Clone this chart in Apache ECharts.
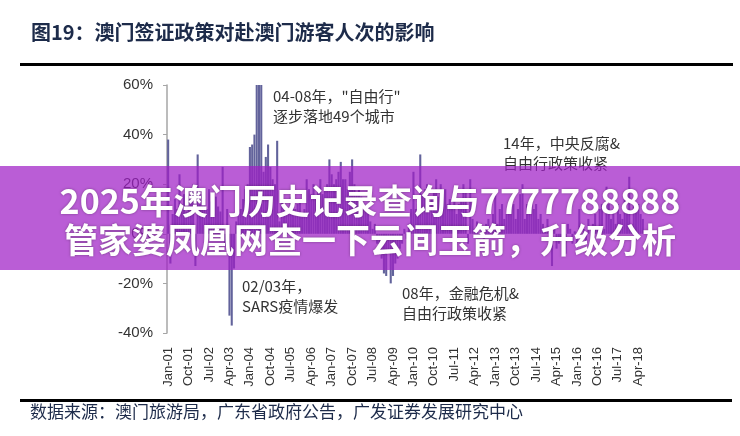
<!DOCTYPE html>
<html><head><meta charset="utf-8">
<script src="https://cdn.jsdelivr.net/npm/echarts@6/dist/echarts.min.js"></script>
<style>html,body{margin:0;padding:0;background:#fff}#c{width:740px;height:436px}</style>
</head><body><div id="c"></div>
<script>
const titleText = '图19：澳门签证政策对赴澳门游客人次的影响';
const sourceText = '数据来源：澳门旅游局，广东省政府公告，广发证券发展研究中心';
const bannerLines = ['2025年澳门历史记录查询与7777788888', '管家婆凤凰网查一下云间玉箭，升级分析'];
const monthNames = ['Jan','Feb','Mar','Apr','May','Jun','Jul','Aug','Sep','Oct','Nov','Dec'];
const yearLabels = ['01','02','03','04','05','06','07','08','09','10','11','12','13','14','15','16','17','18'];
const yTicks = [-40, -20, 0, 20, 40, 60];

// Monthly YoY growth of visitor arrivals (%)
const yoy2001 = [38, -12, 8, 14, 10, 24, 12, 16, 9, 14, 18, 20];
const yoy2002 = [-13, 32, 12, 16, 14, 10, 18, 13, 8, 15, 11, 9];
const yoy2003 = [27, -5, 10, -33, -37, -14, 5, 8, 10, 14, 18, 20];
const yoy2004 = [35, 36, 40, 60, 60, 60, 25, 31, 36, 27, 22, 20];
const yoy2005 = [37.5, 5, 14, 12, 10, 8, 15, 13, 10, 12, 14, 8];
const yoy2006 = [10, 22, 18, 16, 20, 14, 18, 22, 16, 18, 20, 30];
const yoy2007 = [24, 20, 22, 25, 29, 22, 22, 18, 25, 30, 20, 16];
const yoy2008 = [18, 15, 12, 10, 12, 5, 2, 4, -4, -8, -10, -16];
const yoy2009 = [-17, -8, -20, -17, -12, -10, -6, -4, 2, -2, 4, 10];
const yoy2010 = [25, 10, 14, 32, 16, 18, 20, 12, 14, 18, 22, 15];
const yoy2011 = [20, 16, 18, 12, 14, 10, 16, 8, 12, 14, 20, 18];
const yoy2012 = [-4, 22, 6, 2, 5, 0, 3, -2, 4, 6, 2, 8];
const yoy2013 = [16, 4, 10, 12, 6, 8, 10, 14, 12, 6, 10, 16];
const yoy2014 = [20, 6, 12, 8, 14, 10, 12, 6, 8, 4, 2, 6];
const yoy2015 = [0, -13, 2, -6, -4, -2, -3, -8, 4, 2, -4, 1];
const yoy2016 = [-4, 10, -2, 2, -3, 6, 0, 4, 8, 2, 10, 12];
const yoy2017 = [2, 19, 12, 6, 10, 4, 12, 8, 6, 14, 10, 23];
const yoy2018 = [4, 12, 10, 12, 8, 6];

const values = [].concat(yoy2001, yoy2002, yoy2003, yoy2004, yoy2005, yoy2006, yoy2007, yoy2008, yoy2009,
  yoy2010, yoy2011, yoy2012, yoy2013, yoy2014, yoy2015, yoy2016, yoy2017, yoy2018);
const categories = [];
yearLabels.forEach(y => monthNames.forEach(m => categories.push(m + '-' + y)));
categories.length = values.length;

const annotations = [
  {x: 273, y: 96, lines: ['04-08年，"自由行"', '逐步落地49个城市']},
  {x: 503, y: 143, lines: ['14年，中央反腐&', '自由行政策收紧']},
  {x: 242, y: 286, lines: ['02/03年，', 'SARS疫情爆发']},
  {x: 402, y: 293, lines: ['08年，金融危机&', '自由行政策收紧']}
];

const graphics = [
  {type: 'text', left: 31, top: 22, style: {text: titleText, fill: '#1d2b4a', font: 'bold 20px "Noto Sans CJK SC"'}},
  {type: 'rect', shape: {x: 20, y: 63, width: 713, height: 3}, style: {fill: '#000'}},
  {type: 'rect', shape: {x: 20, y: 399, width: 712, height: 3}, style: {fill: '#000'}},
  {type: 'text', left: 30, top: 403, style: {text: sourceText, fill: '#1d2b4a', font: '17px "Noto Sans CJK SC"'}}
];
annotations.forEach(a => {
  a.lines.forEach((t, i) => {
    graphics.push({type: 'text', x: a.x, y: a.y + i * 20, style: {text: t, fill: '#333', font: '15px "Noto Sans CJK SC"', textVerticalAlign: 'middle'}});
  });
});
graphics.push({type: 'rect', z: 100, shape: {x: 0, y: 166, width: 740, height: 104}, style: {fill: 'rgba(160,30,198,0.72)'}});
bannerLines.forEach((t, i) => {
  graphics.push({type: 'text', z: 101, x: 370, y: 201 + i * 39, style: {text: t, fill: '#fff', font: 'bold 34px "Noto Sans CJK SC"', textAlign: 'center', textVerticalAlign: 'middle', textShadowColor: 'rgba(0,0,0,0.35)', textShadowBlur: 3}});
});

const chart = echarts.init(document.getElementById('c'));
chart.setOption({
  animation: false,
  grid: {left: 167, right: 96, top: 85, bottom: 103},
  xAxis: {
    type: 'category', data: categories, position: 'bottom',
    axisLine: {show: false, onZero: false}, axisTick: {show: false},
    axisLabel: {interval: 8, rotate: 90, margin: 14, color: '#333', fontSize: 13, fontFamily: 'Liberation Sans'}
  },
  yAxis: {
    type: 'value', min: yTicks[0], max: yTicks[yTicks.length - 1], interval: 20,
    axisLine: {show: true, lineStyle: {color: '#a6a6a6', width: 1.5}},
    axisTick: {show: true, length: 4, lineStyle: {color: '#a6a6a6'}},
    splitLine: {show: false},
    axisLabel: {formatter: '{value}%', color: '#333', fontSize: 15, margin: 14, fontFamily: 'Liberation Sans'}
  },
  series: [{type: 'bar', data: values, barCategoryGap: '8%', itemStyle: {color: '#62639b'}, clip: true}],
  graphic: graphics
});
</script>
</body></html>
